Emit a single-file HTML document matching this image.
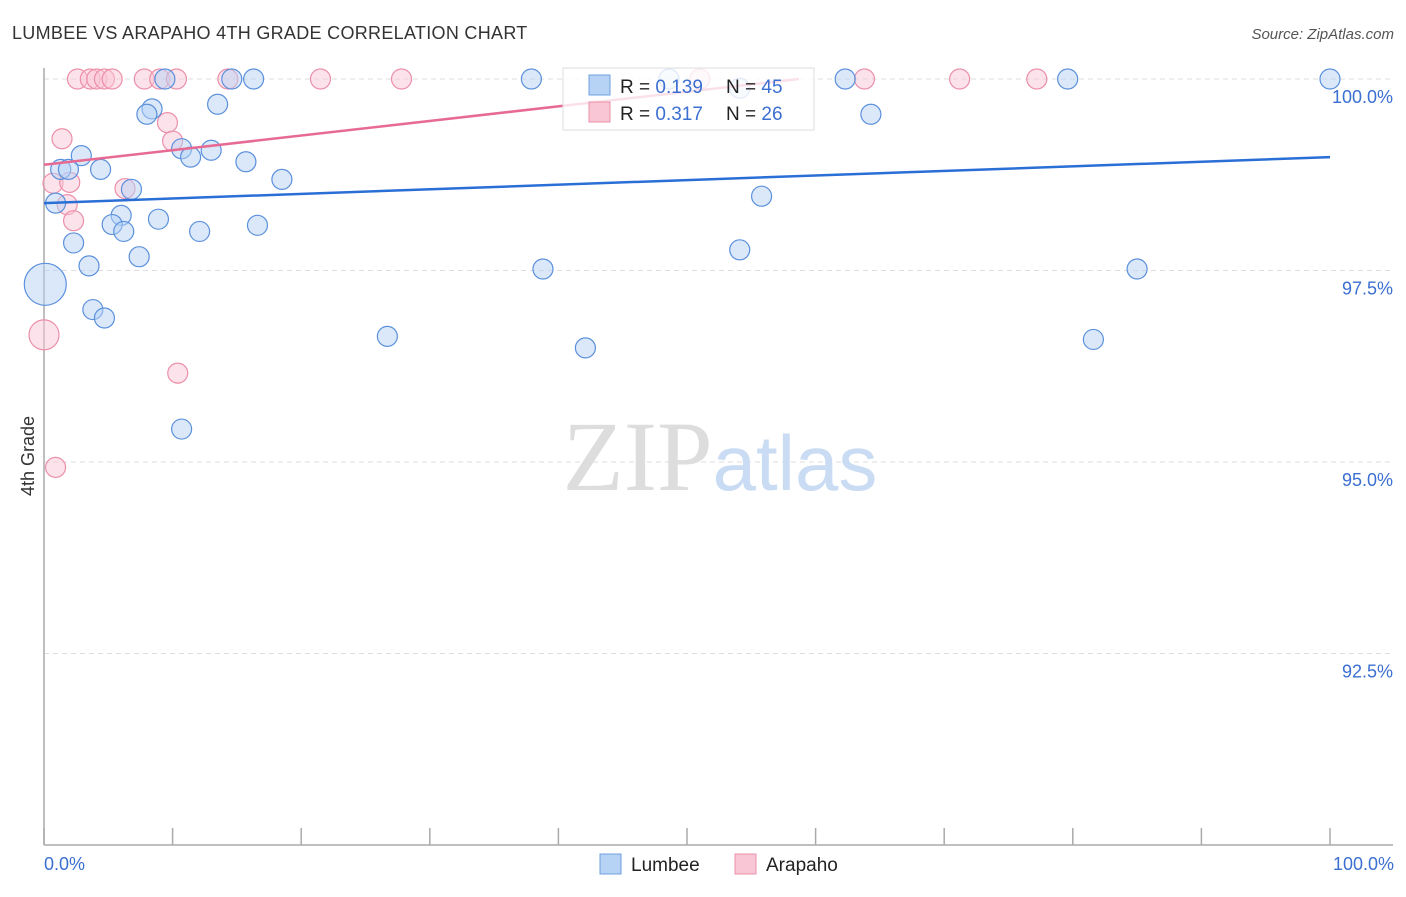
<!DOCTYPE html>
<html><head><meta charset="utf-8"><style>
body{margin:0;background:#fff;font-family:"Liberation Sans",sans-serif}
</style></head><body>
<svg id="chart" width="1406" height="892" xmlns="http://www.w3.org/2000/svg" font-family="Liberation Sans, sans-serif">
<text x="12" y="39" font-size="18" fill="#333" letter-spacing="0.3">LUMBEE VS ARAPAHO 4TH GRADE CORRELATION CHART</text>
<text x="1394" y="39" font-size="15" fill="#555" font-style="italic" text-anchor="end">Source: ZipAtlas.com</text>
<g id="grid"></g>
<text x="720" y="490" font-size="100" text-anchor="middle"><tspan fill="#ddd" font-family="Liberation Serif, serif">ZIP</tspan><tspan fill="#c9dcf3" font-size="78">atlas</tspan></text>
<text transform="translate(34,456) rotate(-90)" font-size="18" fill="#333" text-anchor="middle">4th Grade</text>
<g id="points"></g>
<g id="lines"></g>
<g>
<rect x="563" y="68" width="251" height="62" fill="#fff" fill-opacity="0.8" stroke="#ddd"/>
<rect x="589" y="75" width="21" height="20" fill="#b6d2f5" stroke="#6fa0e0"/>
<rect x="589" y="102" width="21" height="20" fill="#f9c6d5" stroke="#ec8fa9"/>
<text x="620" y="93" font-size="19" fill="#222">R = <tspan fill="#3b6fd1">0.139</tspan></text>
<text x="726" y="93" font-size="19" fill="#222">N = <tspan fill="#3b6fd1">45</tspan></text>
<text x="620" y="120" font-size="19" fill="#222">R = <tspan fill="#3b6fd1">0.317</tspan></text>
<text x="726" y="120" font-size="19" fill="#222">N = <tspan fill="#3b6fd1">26</tspan></text>
</g>
<g>
<rect x="600" y="854" width="21" height="20" fill="#b6d2f5" stroke="#6fa0e0"/>
<text x="631" y="871" font-size="19" fill="#222">Lumbee</text>
<rect x="735" y="854" width="21" height="20" fill="#f9c6d5" stroke="#ec8fa9"/>
<text x="766" y="871" font-size="19" fill="#222">Arapaho</text>
</g>
</svg>
<script>
const yTicks=[100,97.5,95,92.5];
const yTickLabels=["100.0%","97.5%","95.0%","92.5%"];
const xTickLabels=["0.0%","100.0%"];
const lumbeeX=[9.4,14.6,16.3,37.9,48.6,54.1,62.3,79.6,100,8.4,8.0,13.5,64.3,2.9,1.3,1.9,4.4,10.7,11.4,13.0,15.7,18.5,0.9,6.8,6.0,5.3,6.2,8.9,12.1,16.6,55.8,2.3,3.5,7.4,38.8,54.1,85.0,0.1,3.8,4.7,26.7,42.1,81.6,10.7];
const lumbeeY=[100,100,100,100,100,99.88,100,100,100,99.61,99.54,99.67,99.54,99.0,98.82,98.82,98.82,99.09,98.98,99.07,98.92,98.69,98.38,98.56,98.22,98.10,98.01,98.17,98.01,98.09,98.47,97.86,97.56,97.68,97.52,97.77,97.52,97.32,96.99,96.88,96.64,96.49,96.60,95.43];
const lumbeeR=[10,10,10,10,10,10,10,10,10,10,10,10,10,10,10,10,10,10,10,10,10,10,10,10,10,10,10,10,10,10,10,10,10,10,10,10,10,21,10,10,10,10,10,10];
const arapahoX=[2.6,3.6,4.1,4.7,5.3,7.8,9.0,10.3,14.3,21.5,27.8,51.0,63.8,71.2,77.2,1.4,9.6,10.0,0.7,2.0,6.3,1.8,2.3,10.4,0.0,0.9];
const arapahoY=[100,100,100,100,100,100,100,100,100,100,100,100,100,100,100,99.22,99.43,99.19,98.64,98.65,98.57,98.36,98.15,96.16,96.66,94.93];
const arapahoR=[10,10,10,10,10,10,10,10,10,10,10,10,10,10,10,10,10,10,10,10,10,10,10,10,15,10];
const lumbeeTrend=[98.38,98.98];
const arapahoTrend=[98.88,100.0];
const arapahoTrendEnd=58.7;
const X0=44,X1=1330,Y100=79,PXPER=76.6;
const sx=v=>X0+(X1-X0)*v/100;
const sy=v=>Y100+(100-v)*PXPER;
const NS="http://www.w3.org/2000/svg";
function mk(tag,attrs,parent){const e=document.createElementNS(NS,tag);for(const k in attrs)e.setAttribute(k,attrs[k]);parent.appendChild(e);return e;}
const grid=document.getElementById('grid');
yTicks.forEach((t,i)=>{
 const l=mk('line',{x1:X0,x2:1393,y1:sy(t),y2:sy(t),stroke:'#ddd','stroke-dasharray':'5,4'},grid);
 
 
 const tx=mk('text',{x:1393,y:sy(t)+24,'font-size':18,fill:'#3b6fd1','text-anchor':'end'},grid);
 tx.textContent=yTickLabels[i];
 
 
});
const ax=mk('line',{x1:X0,x2:X0,y1:68,y2:845,stroke:'#aaa','stroke-width':1.5},grid);


const bx=mk('line',{x1:X0,x2:1393,y1:845,y2:845,stroke:'#aaa','stroke-width':1.5},grid);


for(let i=0;i<=10;i++){const x=X0+(X1-X0)*i/10;const t=mk('line',{x1:x,x2:x,y1:828,y2:845,stroke:'#aaa','stroke-width':1.5},grid);
 
 }
[0,100].forEach((v,i)=>{const t=mk('text',{x:i?1394:44,y:870,'font-size':18,fill:'#3b6fd1','text-anchor':i?'end':'start'},grid);t.textContent=xTickLabels[i];
 
 });
const pts=document.getElementById('points');
arapahoX.forEach((x,i)=>{const c=mk('circle',{cx:sx(x),cy:sy(arapahoY[i]),r:arapahoR[i],fill:'#f9c6d5','fill-opacity':0.5,stroke:'#ec8fa9','stroke-width':1.2},pts);
 
 });
lumbeeX.forEach((x,i)=>{const c=mk('circle',{cx:sx(x),cy:sy(lumbeeY[i]),r:lumbeeR[i],fill:'#b6d2f5','fill-opacity':0.5,stroke:'#5b90dc','stroke-width':1.2},pts);
 
 });
const lines=document.getElementById('lines');
const l1=mk('line',{x1:sx(0),y1:sy(lumbeeTrend[0]),x2:sx(100),y2:sy(lumbeeTrend[1]),stroke:'#2a6fd6','stroke-width':2.5},lines);


const l2=mk('line',{x1:sx(0),y1:sy(arapahoTrend[0]),x2:sx(arapahoTrendEnd),y2:sy(arapahoTrend[1]),stroke:'#e76a93','stroke-width':2.5},lines);


</script>
</body></html>
